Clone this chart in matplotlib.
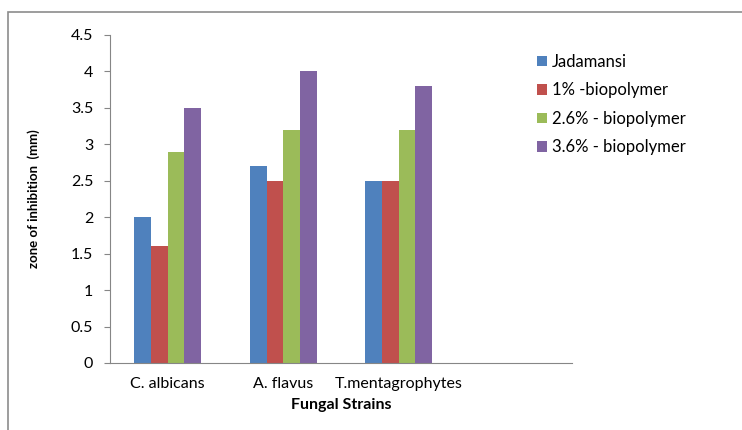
import numpy as np
import matplotlib.pyplot as plt
from matplotlib.patches import Rectangle

plt.rcParams['font.family'] = ['Lato', 'DejaVu Sans']

strains = ["C. albicans", "A. flavus", "T.mentagrophytes"]
series = ["Jadamansi", "1% -biopolymer", "2.6% - biopolymer", "3.6% - biopolymer"]
jadamansi = [2.0, 2.7, 2.5]
bio1 = [1.6, 2.5, 2.5]
bio26 = [2.9, 3.2, 3.2]
bio36 = [3.5, 4.0, 3.8]
colors = ['#4F81BD', '#C0504D', '#9BBB59', '#8064A2']

fig = plt.figure(figsize=(7.42, 4.30), dpi=100)
# outer chart frame (partly cut off on right/bottom)
fig.patches.append(Rectangle((8/742, -0.1), 1.0, 1 - 12/430 + 0.1, transform=fig.transFigure,
                             fill=False, edgecolor='#8c8c8c', linewidth=1.2))

ax = fig.add_axes([110/742, 1-363/430, 462/742, (363-35)/430])
x = np.arange(len(strains))
w = 0.145
for i, (vals, c, lab) in enumerate(zip([jadamansi, bio1, bio26, bio36], colors, series)):
    ax.bar(x + (i - 1.5) * w, vals, w, color=c, label=lab)

ax.set_xlim(-0.5, 3.5)
ax.set_ylim(0, 4.5)
ax.set_yticks(np.arange(0, 4.51, 0.5))
ax.set_yticklabels(['0', '0.5', '1', '1.5', '2', '2.5', '3', '3.5', '4', '4.5'])
ax.set_xticks(x)
ax.set_xticklabels(strains)
ax.tick_params(axis='x', length=0, pad=10, labelsize=11.5)
ax.tick_params(axis='y', length=4, color='#868686', pad=8, labelsize=11.5)
for s in ['top', 'right']:
    ax.spines[s].set_visible(False)
for s in ['left', 'bottom']:
    ax.spines[s].set_color('#868686')
ax.set_ylabel('zone of inhibition  (mm)', fontweight='bold', fontsize=9.5, labelpad=22)
ax.set_xlabel('Fungal Strains', fontweight='bold', fontsize=11.5, labelpad=5)

leg = fig.legend(loc='upper left', bbox_to_anchor=(522/742, 1-39/430), frameon=False,
                 fontsize=12, handlelength=0.6, handleheight=0.6, handletextpad=0.3,
                 labelspacing=0.75)

plt.savefig("out.png", dpi=100)
